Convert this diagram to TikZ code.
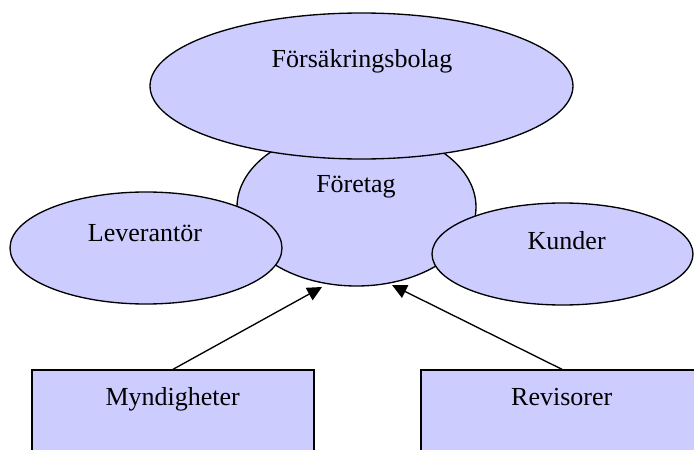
\documentclass[tikz,border=0pt]{standalone}
\usepackage{fontspec}
\setmainfont{Liberation Serif}
\usetikzlibrary{shapes.geometric,arrows.meta}

\begin{document}
\begin{tikzpicture}[x=0.75pt,y=0.75pt,yscale=-1,xscale=1,
  bubble/.style={draw,ellipse,fill={rgb, 255:red, 204; green, 204; blue, 255},line width=1pt,inner sep=0pt},
  box/.style={draw,rectangle,fill={rgb, 255:red, 204; green, 204; blue, 255},line width=1pt,inner sep=0pt,minimum width=211.5pt,minimum height=75pt},
  lbl/.style={anchor=base,inner sep=0.75pt,font=\fontsize{19.5}{23}\selectfont},
  link/.style={line width=1pt,-{Triangle[length=11pt,width=10.5pt]}}]
\useasboundingbox (0,0) rectangle (694,450);
\clip (0,0) rectangle (694,450);

%Ellipses
\node [bubble,minimum width=179.25pt,minimum height=118.5pt] (foretag) at (356.5,207) {};
\node [bubble,minimum width=317.25pt,minimum height=109.5pt] (forsakring) at (361.5,86) {};
\node [bubble,minimum width=204pt,minimum height=84pt] (leverantor) at (146,248) {};
\node [bubble,minimum width=195.75pt,minimum height=76.5pt] (kunder) at (562.5,254) {};

%Boxes
\node [box] (myndigheter) at (173,420) {};
\node [box] (revisorer) at (562,420) {};

%Arrows
\coordinate (tipA) at (322,287);
\coordinate (tipB) at (392,285);
\draw [link] (myndigheter.north) -- (tipA);
\draw [link] (revisorer.north) -- (tipB);

% Text Node
\node [lbl] (forsakringtxt) at (362,67) {Försäkringsbolag};
% Text Node
\node [lbl] (foretagtxt) at (356,192.7) {Företag};
% Text Node
\node [lbl] (leverantortxt) at (145,241) {Leverantör};
% Text Node
\node [lbl] (kundertxt) at (566.7,249) {Kunder};
% Text Node
\node [lbl] (myndighetertxt) at (172.7,405) {Myndigheter};
% Text Node
\node [lbl] (revisorertxt) at (561.7,405) {Revisorer};

\end{tikzpicture}
\end{document}
